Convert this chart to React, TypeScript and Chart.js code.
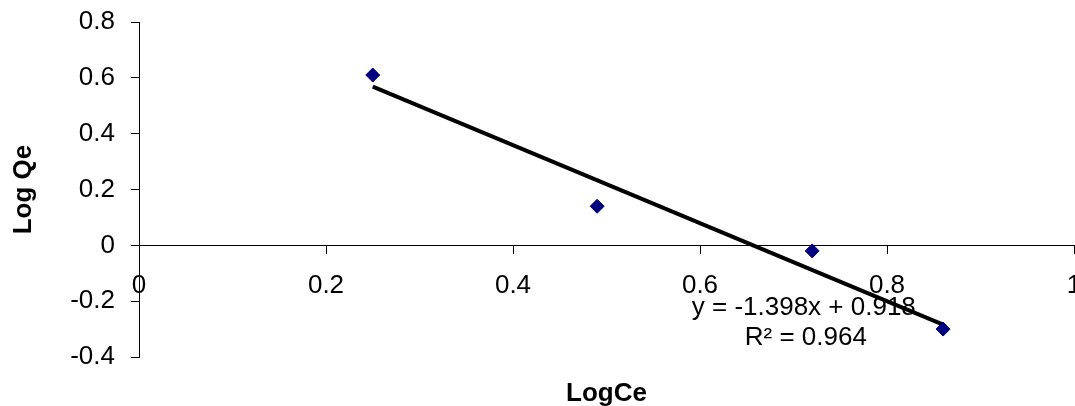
import React, { useEffect, useRef } from 'react';
import { Chart, registerables } from 'chart.js';

Chart.register(...registerables);

// ---- data ----
const logCe = [0.25, 0.49, 0.72, 0.86];
const logQe = [0.61, 0.14, -0.02, -0.3];
const trendSlope = -1.398;
const trendIntercept = 0.918;
const equationText = 'y = -1.398x + 0.918';
const r2Text = 'R² = 0.964';
const xTickValues = [0, 0.2, 0.4, 0.6, 0.8, 1];
const xTickLabels = ['0', '0.2', '0.4', '0.6', '0.8', '1'];
const yTickValues = [-0.4, -0.2, 0, 0.2, 0.4, 0.6, 0.8];
const yTickLabels = ['-0.4', '-0.2', '0', '0.2', '0.4', '0.6', '0.8'];
const xTitle = 'LogCe';
const yTitle = 'Log Qe';

const FONT = '"Liberation Sans", Arial, sans-serif';
const FS = 26;

const trendLabelPlugin = {
  id: 'trendLabel',
  beforeDatasetsDraw(chart: any) {
    const { ctx, scales } = chart;
    const x = scales.x;
    const y = scales.y;
    ctx.save();
    ctx.font = `${FS}px ${FONT}`;
    ctx.fillStyle = '#000';
    ctx.textAlign = 'center';
    ctx.textBaseline = 'middle';
    const cx = x.getPixelForValue(0.711);
    const cy = y.getPixelForValue(-0.225);
    ctx.fillText(equationText, cx, cy);
    ctx.fillText(r2Text, cx + 2, cy + 30);
    ctx.restore();
  },
};

const noAutoPad = (s: any) => {
  s.paddingLeft = 0;
  s.paddingRight = 0;
  s.paddingTop = 0;
  s.paddingBottom = 0;
};

export default function App() {
  const ref = useRef<HTMLCanvasElement | null>(null);

  useEffect(() => {
    if (!ref.current) return;
    const xMin = Math.min(...logCe);
    const xMax = Math.max(...logCe);
    const trendPoints = [
      { x: xMin, y: trendSlope * xMin + trendIntercept },
      { x: xMax, y: trendSlope * xMax + trendIntercept },
    ];
    const chart = new Chart(ref.current, {
      type: 'scatter',
      data: {
        datasets: [
          {
            type: 'line',
            label: 'Linear',
            data: trendPoints,
            borderColor: '#000',
            borderWidth: 4,
            pointRadius: 0,
            fill: false,
            order: 1,
          } as any,
          {
            label: 'Log Qe',
            data: logCe.map((v, i) => ({ x: v, y: logQe[i] })),
            backgroundColor: '#000080',
            borderColor: '#000080',
            borderWidth: 1,
            pointStyle: 'rectRot',
            pointRadius: 7,
            order: 0,
          },
        ],
      },
      options: {
        responsive: false,
        animation: false,
        devicePixelRatio: 1,
        layout: { autoPadding: false, padding: { top: 22, right: 1, bottom: 49, left: 0 } } as any,
        plugins: { legend: { display: false }, tooltip: { enabled: false } },
        scales: {
          x: {
            type: 'linear',
            position: { y: 0 } as any,
            min: 0,
            max: 1,
            afterBuildTicks: (s: any) => {
              s.ticks = xTickValues.map((v) => ({ value: v }));
            },
            afterFit: (s: any) => {
              s.height = 164;
              noAutoPad(s);
            },
            ticks: {
              autoSkip: false,
              maxRotation: 0,
              padding: 17,
              color: '#000',
              font: { family: FONT, size: FS },
              callback: (v: any) => xTickLabels[xTickValues.indexOf(Number(v))] ?? '',
            },
            grid: { drawOnChartArea: false, drawTicks: true, tickLength: 8, color: '#000' },
            border: { display: true, color: '#000', width: 1 },
            title: {
              display: true,
              text: xTitle,
              color: '#000',
              padding: { top: 0, bottom: 0 },
              font: { family: FONT, size: FS, weight: 'bold' },
            },
          },
          y: {
            type: 'linear',
            position: 'left',
            min: -0.4,
            max: 0.8,
            afterBuildTicks: (s: any) => {
              s.ticks = yTickValues.map((v) => ({ value: v }));
            },
            afterFit: (s: any) => {
              s.width = 139;
              noAutoPad(s);
            },
            ticks: {
              autoSkip: false,
              padding: 16,
              color: '#000',
              font: { family: FONT, size: FS },
              callback: (v: any) => yTickLabels[yTickValues.indexOf(Number(v))] ?? '',
            },
            grid: { drawOnChartArea: false, drawTicks: true, tickLength: 8, color: '#000' },
            border: { display: true, color: '#000', width: 1 },
            title: {
              display: true,
              text: yTitle,
              color: '#000',
              padding: { top: 8, bottom: 0 },
              font: { family: FONT, size: FS, weight: 'bold' },
            },
          },
        },
      },
      plugins: [trendLabelPlugin],
    });
    return () => chart.destroy();
  }, []);

  return (
    <div style={{ position: 'absolute', left: 0, top: 0, width: 1075, height: 406 }}>
      <canvas ref={ref} width={1075} height={406} style={{ display: 'block' }} />
    </div>
  );
}
